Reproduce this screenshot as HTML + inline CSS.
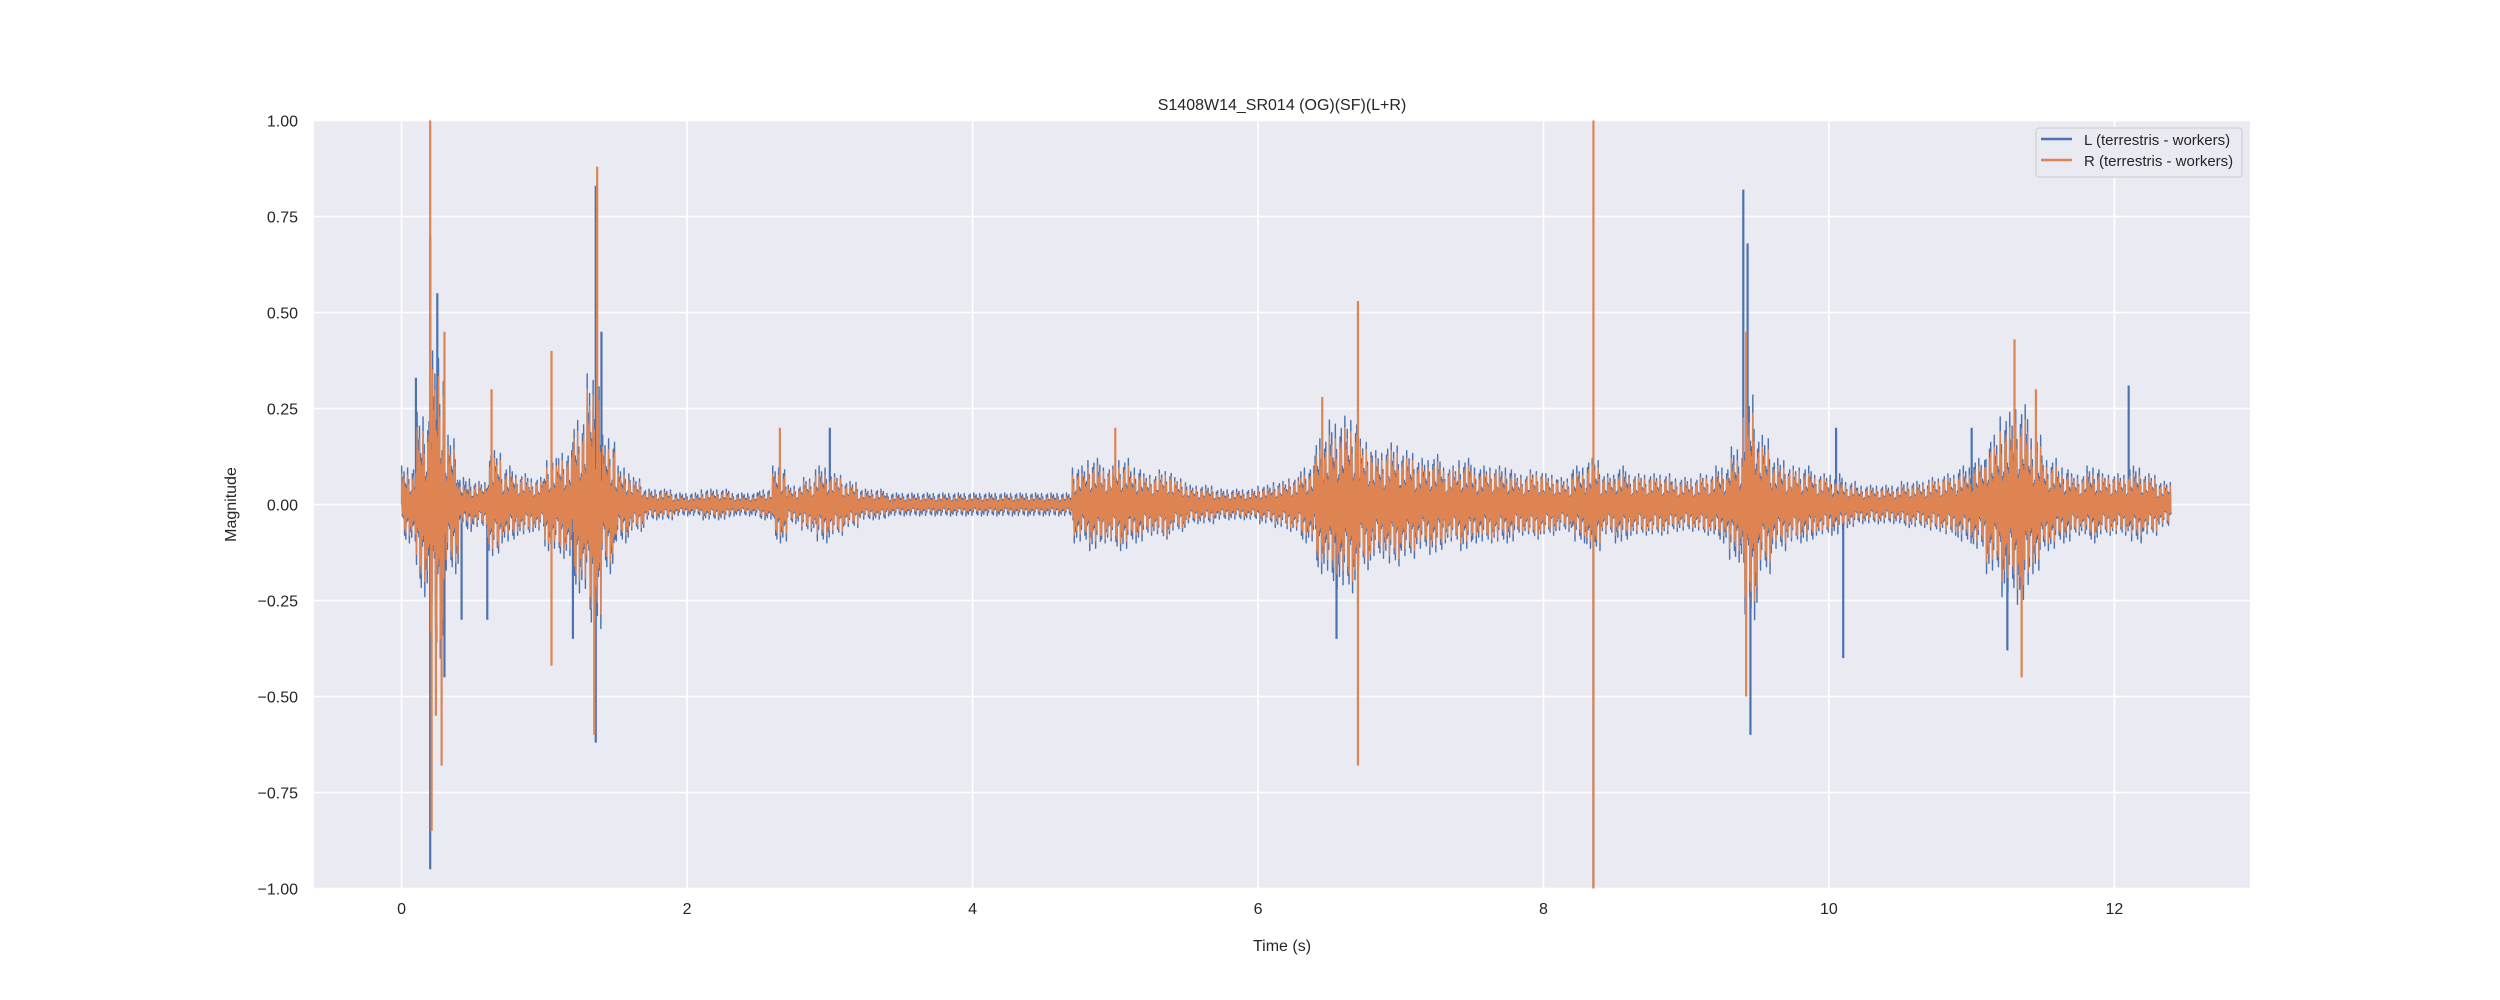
<!DOCTYPE html>
<html><head><meta charset="utf-8"><style>
html,body{margin:0;padding:0;background:#fff;}
svg{display:block;font-family:"Liberation Sans","DejaVu Sans",sans-serif;}
</style></head><body>
<svg id="chart" width="2500" height="1000" viewBox="0 0 2500 1000">
<rect x="314" y="120.5" width="1936" height="768" fill="#eaeaf2"/>
<g id="grid"></g>
<g id="series"></g>
<g id="axes"></g>
<text x="1282" y="110" text-anchor="middle" font-size="16" fill="#262626">S1408W14_SR014 (OG)(SF)(L+R)</text>
<text x="1282" y="951" text-anchor="middle" font-size="16" fill="#262626">Time (s)</text>
<text x="236" y="504.5" text-anchor="middle" font-size="16" fill="#262626" transform="rotate(-90 236 504.5)">Magnitude</text>
<g>
<rect x="2036" y="128" width="206" height="49" rx="3" fill="#eaeaf2" stroke="#cccccc" stroke-width="1"/>
<line x1="2041" y1="139" x2="2072" y2="139" stroke="#4c72b0" stroke-width="2.5"/>
<text x="2084" y="145" font-size="15" fill="#262626">L (terrestris - workers)</text>
<line x1="2041" y1="160" x2="2072" y2="160" stroke="#dd8452" stroke-width="2.5"/>
<text x="2084" y="166" font-size="15" fill="#262626">R (terrestris - workers)</text>
</g>
</svg>
<script>
const binStep = 0.1;
const ampR = [0.08,0.2,0.35,0.15,0.05,0.05,0.12,0.08,0.07,0.06,
0.1,0.12,0.2,0.3,0.15,0.08,0.06,0.03,0.03,0.02,
0.02,0.03,0.03,0.02,0.02,0.03,0.08,0.04,0.06,0.08,
0.07,0.05,0.03,0.03,0.02,0.02,0.02,0.02,0.02,0.02,
0.02,0.02,0.02,0.02,0.02,0.02,0.02,0.08,0.1,0.09,
0.1,0.08,0.07,0.08,0.06,0.04,0.04,0.03,0.03,0.03,
0.04,0.05,0.06,0.08,0.15,0.18,0.2,0.15,0.12,0.14,
0.12,0.1,0.11,0.09,0.1,0.08,0.09,0.08,0.07,0.08,
0.07,0.06,0.08,0.1,0.07,0.08,0.07,0.07,0.07,0.06,
0.06,0.07,0.08,0.12,0.25,0.15,0.1,0.09,0.08,0.07,
0.06,0.05,0.04,0.04,0.04,0.05,0.05,0.06,0.07,0.08,
0.1,0.15,0.2,0.22,0.15,0.1,0.08,0.07,0.08,0.07,
0.07,0.08,0.07,0.05];
const ampL = [0.1,0.24,0.4,0.18,0.07,0.06,0.14,0.1,0.08,0.07,
0.12,0.14,0.23,0.34,0.18,0.1,0.07,0.04,0.04,0.03,
0.03,0.04,0.04,0.03,0.03,0.04,0.1,0.05,0.07,0.1,
0.08,0.06,0.04,0.04,0.03,0.03,0.03,0.03,0.03,0.03,
0.03,0.03,0.03,0.03,0.03,0.03,0.03,0.1,0.12,0.1,
0.12,0.1,0.08,0.09,0.07,0.05,0.05,0.04,0.04,0.04,
0.05,0.06,0.07,0.1,0.18,0.22,0.23,0.17,0.14,0.16,
0.14,0.12,0.13,0.1,0.12,0.1,0.1,0.1,0.08,0.09,
0.08,0.07,0.1,0.12,0.08,0.1,0.08,0.08,0.08,0.07,
0.07,0.08,0.1,0.15,0.3,0.18,0.12,0.1,0.1,0.08,
0.08,0.06,0.05,0.05,0.05,0.06,0.06,0.07,0.08,0.1,
0.12,0.18,0.24,0.26,0.18,0.12,0.1,0.08,0.1,0.08,
0.08,0.1,0.08,0.06];
const spikeTimesL = [0.1,0.2,0.2,0.25,0.42,0.6,1.36,1.36,1.4,1.2,3.0,6.55,8.35,9.4,9.45,10.1,11.25,12.1,11.0,10.05,9.43,0.3];
const spikeValsL  = [0.33,0.7,-0.95,0.55,-0.3,-0.3,0.83,-0.62,0.45,-0.35,0.2,-0.35,-1.0,0.82,-0.6,-0.4,-0.38,0.31,0.2,0.2,0.68,-0.45];
const spikeTimesR = [0.2,0.21,0.28,0.3,0.63,1.05,1.05,1.37,1.35,2.65,5.0,6.7,6.7,6.45,8.35,8.35,9.42,9.42,11.3,11.35,11.45,0.24];
const spikeValsR  = [1.0,-0.85,-0.68,0.45,0.3,0.4,-0.42,0.88,-0.6,0.2,0.2,0.53,-0.68,0.28,1.0,-1.0,0.45,-0.5,0.43,-0.45,0.3,-0.55];
const xTicks = [0,2,4,6,8,10,12];
const yTicks = [-1,-0.75,-0.5,-0.25,0,0.25,0.5,0.75,1];

const X0=314,X1=2250,Y0=120.5,Y1=888.5;
const xMin=-0.614,xMax=12.95,yMin=-1,yMax=1;
const sx=t=>X0+(t-xMin)/(xMax-xMin)*(X1-X0);
const sy=v=>Y1-(v-yMin)/(yMax-yMin)*(Y1-Y0);
const NS="http://www.w3.org/2000/svg";
const grid=document.getElementById('grid'),axes=document.getElementById('axes'),series=document.getElementById('series');
function mk(tag,attrs,parent){const e=document.createElementNS(NS,tag);for(const k in attrs)e.setAttribute(k,attrs[k]);parent.appendChild(e);return e;}
xTicks.forEach(t=>{
  const l=mk('line',{x1:sx(t),x2:sx(t),y1:Y0,y2:Y1,stroke:'#fff','stroke-width':1.6},grid);
  
  
  const tx=mk('text',{x:sx(t),y:914,'text-anchor':'middle','font-size':16,fill:'#262626'},axes);
  tx.textContent=String(t);
  
  
});
yTicks.forEach(v=>{
  const l=mk('line',{x1:X0,x2:X1,y1:sy(v),y2:sy(v),stroke:'#fff','stroke-width':1.6},grid);
  
  
  const tx=mk('text',{x:298,y:sy(v)+6,'text-anchor':'end','font-size':16,fill:'#262626'},axes);
  tx.textContent=(v<0?'\u2212':'')+Math.abs(v).toFixed(2);
  
  
});
const pattern=[1,0.45,0.8,0.3,0.95,0.55,0.7,0.4,0.9,0.35,0.65,0.5,0.85];
function drawSeries(amp,st,sv,color,name){
  const g=mk('g',{},series);
  
  
  let d='M'+sx(0)+','+sy(0);
  const sub=24;
  amp.forEach((a,i)=>{
    for(let j=0;j<sub;j++){
      const t=(i+j/sub)*binStep;
      const p=pattern[(j*3+i*7)%pattern.length];
      const s=(j%2===0)?1:-1;
      d+=' L'+sx(t).toFixed(2)+','+sy(s*a*p).toFixed(2);
    }
  });
  d+=' L'+sx(amp.length*binStep-0.05)+','+sy(0);
  const p=mk('path',{d:d,fill:'none',stroke:color,'stroke-width':1.4,'stroke-linejoin':'round'},g);
  
  
  st.forEach((t,k)=>{
    const l=mk('line',{x1:sx(t),x2:sx(t),y1:sy(0),y2:sy(sv[k]),stroke:color,'stroke-width':2.2},g);
    
    
  });
}
drawSeries(ampL,spikeTimesL,spikeValsL,'#4c72b0','series-l');
drawSeries(ampR,spikeTimesR,spikeValsR,'#dd8452','series-r');
</script>
</body></html>
